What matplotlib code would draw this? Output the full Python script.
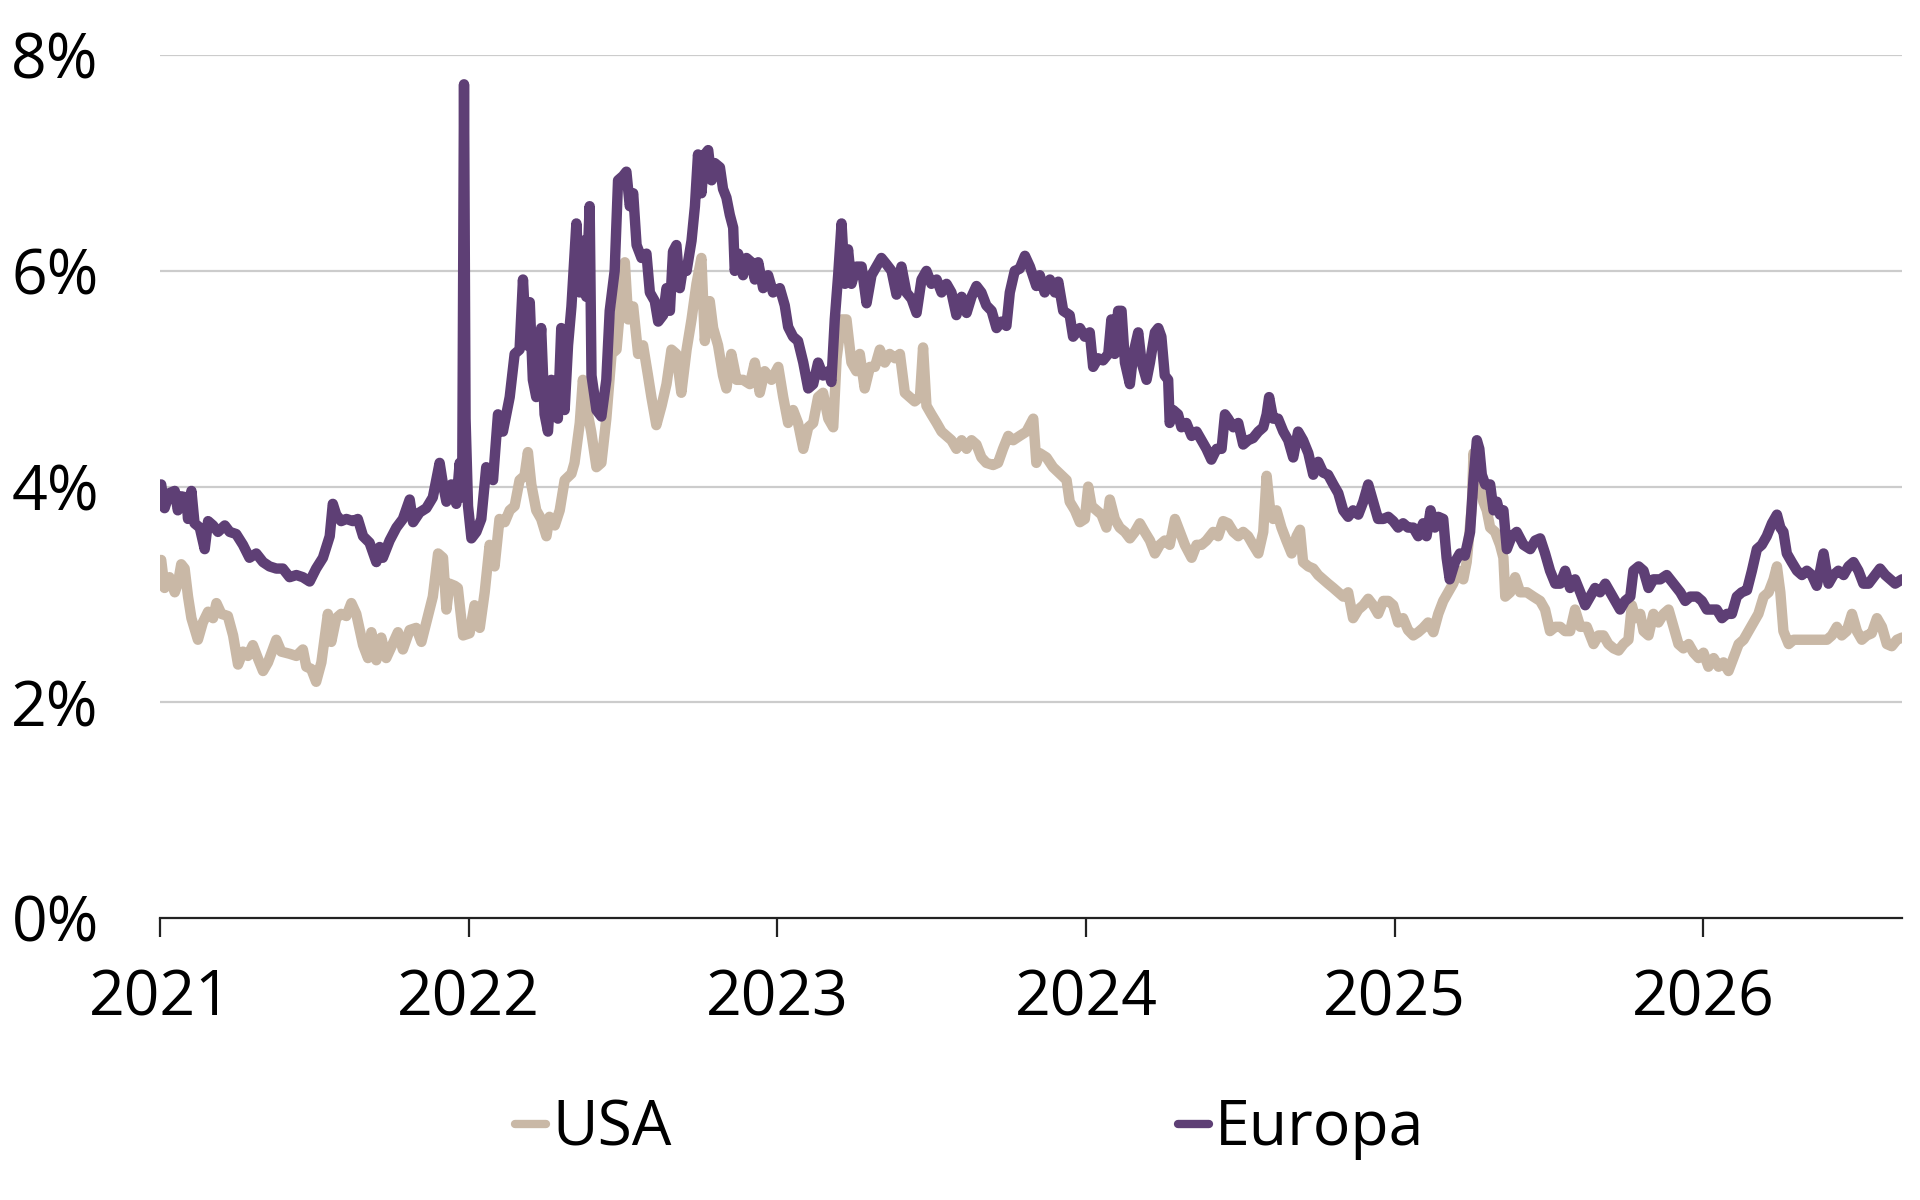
import matplotlib
matplotlib.use("Agg")
import matplotlib.pyplot as plt
from matplotlib.lines import Line2D
from matplotlib.ticker import FixedLocator, FuncFormatter

plt.rcParams['font.family'] = ['Open Sans', 'DejaVu Sans']

# ---- data (decimal years, percent) ----
eur_t = [2021.004, 2021.015, 2021.031, 2021.048, 2021.058, 2021.069, 2021.085, 2021.091, 2021.102, 2021.112,
         2021.129, 2021.145, 2021.156, 2021.172, 2021.188, 2021.210, 2021.226, 2021.247, 2021.269, 2021.290,
         2021.312, 2021.334, 2021.355, 2021.377, 2021.398, 2021.420, 2021.442, 2021.463, 2021.485, 2021.506,
         2021.528, 2021.550, 2021.560, 2021.571, 2021.587, 2021.604, 2021.625, 2021.641, 2021.658, 2021.679,
         2021.701, 2021.712, 2021.722, 2021.744, 2021.766, 2021.787, 2021.809, 2021.820, 2021.841, 2021.863,
         2021.884, 2021.906, 2021.917, 2021.928, 2021.944, 2021.960, 2021.971, 2021.979, 2021.985, 2021.990,
         2021.998, 2022.009, 2022.025, 2022.041, 2022.057, 2022.079, 2022.095, 2022.111, 2022.133, 2022.149,
         2022.165, 2022.176, 2022.187, 2022.198, 2022.208, 2022.219, 2022.235, 2022.246, 2022.257, 2022.268,
         2022.279, 2022.289, 2022.300, 2022.311, 2022.322, 2022.333, 2022.349, 2022.360, 2022.370, 2022.381,
         2022.392, 2022.398, 2022.414, 2022.430, 2022.446, 2022.457, 2022.473, 2022.484, 2022.500, 2022.511,
         2022.522, 2022.533, 2022.544, 2022.560, 2022.576, 2022.587, 2022.603, 2022.614, 2022.630, 2022.641,
         2022.652, 2022.662, 2022.673, 2022.684, 2022.695, 2022.706, 2022.722, 2022.733, 2022.743, 2022.754,
         2022.765, 2022.776, 2022.787, 2022.797, 2022.814, 2022.824, 2022.835, 2022.846, 2022.857, 2022.862,
         2022.873, 2022.889, 2022.900, 2022.916, 2022.927, 2022.938, 2022.954, 2022.970, 2022.986, 2023.008,
         2023.024, 2023.035, 2023.051, 2023.067, 2023.084, 2023.100, 2023.116, 2023.132, 2023.148, 2023.165,
         2023.175, 2023.186, 2023.197, 2023.208, 2023.219, 2023.229, 2023.240, 2023.256, 2023.273, 2023.289,
         2023.305, 2023.321, 2023.337, 2023.354, 2023.370, 2023.386, 2023.402, 2023.418, 2023.435, 2023.451,
         2023.467, 2023.483, 2023.499, 2023.516, 2023.532, 2023.548, 2023.564, 2023.580, 2023.597, 2023.613,
         2023.629, 2023.645, 2023.661, 2023.677, 2023.694, 2023.710, 2023.726, 2023.742, 2023.753, 2023.769,
         2023.785, 2023.802, 2023.818, 2023.839, 2023.850, 2023.866, 2023.883, 2023.899, 2023.910, 2023.926,
         2023.947, 2023.958, 2023.980, 2023.996, 2024.012, 2024.023, 2024.039, 2024.055, 2024.072, 2024.082,
         2024.093, 2024.104, 2024.115, 2024.126, 2024.142, 2024.153, 2024.169, 2024.180, 2024.196, 2024.207,
         2024.223, 2024.234, 2024.244, 2024.255, 2024.266, 2024.271, 2024.282, 2024.298, 2024.309, 2024.325,
         2024.342, 2024.358, 2024.374, 2024.390, 2024.406, 2024.423, 2024.439, 2024.450, 2024.460, 2024.477,
         2024.493, 2024.509, 2024.525, 2024.541, 2024.558, 2024.574, 2024.585, 2024.593, 2024.606, 2024.622,
         2024.639, 2024.655, 2024.671, 2024.687, 2024.703, 2024.720, 2024.736, 2024.752, 2024.768, 2024.784,
         2024.801, 2024.817, 2024.833, 2024.849, 2024.865, 2024.882, 2024.898, 2024.914, 2024.930, 2024.946,
         2024.963, 2024.979, 2024.995, 2025.011, 2025.027, 2025.043, 2025.060, 2025.076, 2025.092, 2025.103,
         2025.116, 2025.130, 2025.141, 2025.157, 2025.168, 2025.178, 2025.195, 2025.211, 2025.227, 2025.238,
         2025.244, 2025.255, 2025.266, 2025.274, 2025.282, 2025.293, 2025.309, 2025.320, 2025.331, 2025.341,
         2025.352, 2025.363, 2025.379, 2025.395, 2025.417, 2025.439, 2025.455, 2025.471, 2025.487, 2025.503,
         2025.520, 2025.536, 2025.552, 2025.568, 2025.584, 2025.601, 2025.617, 2025.633, 2025.649, 2025.665,
         2025.682, 2025.698, 2025.714, 2025.730, 2025.746, 2025.763, 2025.773, 2025.790, 2025.806, 2025.822,
         2025.838, 2025.860, 2025.881, 2025.903, 2025.925, 2025.941, 2025.957, 2025.979, 2025.995, 2026.011,
         2026.027, 2026.043, 2026.060, 2026.076, 2026.092, 2026.108, 2026.124, 2026.141, 2026.157, 2026.173,
         2026.189, 2026.205, 2026.222, 2026.238, 2026.249, 2026.259, 2026.270, 2026.286, 2026.303, 2026.319,
         2026.335, 2026.351, 2026.367, 2026.378, 2026.389, 2026.405, 2026.421, 2026.437, 2026.454, 2026.470,
         2026.486, 2026.502, 2026.518, 2026.535, 2026.551, 2026.572, 2026.589, 2026.605, 2026.621, 2026.643]
eur_v = [4.02, 3.80, 3.94, 3.96, 3.78, 3.91, 3.90, 3.70, 3.96, 3.66,
         3.62, 3.42, 3.68, 3.64, 3.58, 3.64, 3.58, 3.56, 3.46, 3.34,
         3.38, 3.30, 3.26, 3.24, 3.24, 3.16, 3.18, 3.16, 3.12, 3.24,
         3.34, 3.54, 3.84, 3.74, 3.68, 3.70, 3.68, 3.70, 3.54, 3.48,
         3.30, 3.44, 3.34, 3.50, 3.62, 3.70, 3.88, 3.67, 3.76, 3.80,
         3.90, 4.22, 4.02, 3.86, 4.02, 3.84, 4.22, 3.90, 7.73, 4.63,
         3.82, 3.52, 3.58, 3.70, 4.18, 4.06, 4.67, 4.51, 4.83, 5.23,
         5.27, 5.92, 5.31, 5.71, 4.99, 4.83, 5.47, 4.67, 4.51, 4.99,
         4.91, 4.63, 5.47, 4.71, 5.31, 5.67, 6.44, 5.80, 6.28, 5.76,
         6.60, 5.03, 4.71, 4.65, 4.99, 5.63, 6.00, 6.84, 6.88, 6.92,
         6.60, 6.72, 6.24, 6.12, 6.16, 5.80, 5.72, 5.53, 5.59, 5.84,
         5.63, 6.18, 6.24, 5.84, 6.04, 6.00, 6.28, 6.60, 7.08, 6.72,
         7.08, 7.12, 6.84, 7.00, 6.96, 6.76, 6.68, 6.52, 6.40, 6.00,
         6.16, 5.96, 6.12, 6.08, 5.92, 6.08, 5.84, 5.96, 5.80, 5.84,
         5.68, 5.48, 5.39, 5.35, 5.15, 4.91, 4.95, 5.15, 5.03, 5.07,
         4.97, 5.55, 5.96, 6.44, 5.88, 6.20, 5.88, 6.04, 6.04, 5.70,
         5.96, 6.04, 6.12, 6.06, 6.00, 5.78, 6.04, 5.80, 5.74, 5.61,
         5.92, 6.00, 5.88, 5.92, 5.80, 5.88, 5.80, 5.59, 5.76, 5.61,
         5.76, 5.86, 5.80, 5.68, 5.63, 5.47, 5.53, 5.49, 5.80, 6.00,
         6.02, 6.14, 6.04, 5.86, 5.96, 5.80, 5.92, 5.80, 5.90, 5.63,
         5.59, 5.39, 5.47, 5.39, 5.43, 5.11, 5.19, 5.17, 5.23, 5.55,
         5.23, 5.63, 5.63, 5.15, 4.95, 5.23, 5.43, 5.15, 4.99, 5.15,
         5.43, 5.47, 5.39, 5.03, 4.99, 4.59, 4.71, 4.67, 4.55, 4.59,
         4.47, 4.51, 4.43, 4.35, 4.25, 4.35, 4.35, 4.67, 4.63, 4.55,
         4.59, 4.39, 4.43, 4.45, 4.51, 4.55, 4.67, 4.83, 4.63, 4.63,
         4.51, 4.43, 4.27, 4.51, 4.43, 4.31, 4.11, 4.23, 4.13, 4.11,
         4.02, 3.94, 3.78, 3.72, 3.78, 3.74, 3.86, 4.02, 3.86, 3.70,
         3.70, 3.72, 3.68, 3.62, 3.66, 3.62, 3.62, 3.54, 3.66, 3.54,
         3.78, 3.62, 3.72, 3.70, 3.34, 3.14, 3.30, 3.38, 3.36, 3.50,
         3.58, 4.07, 4.43, 4.35, 4.11, 4.02, 4.02, 3.78, 3.86, 3.74,
         3.78, 3.42, 3.54, 3.58, 3.46, 3.42, 3.50, 3.52, 3.38, 3.22,
         3.10, 3.10, 3.22, 3.06, 3.14, 3.02, 2.90, 2.98, 3.06, 3.02,
         3.10, 3.02, 2.94, 2.86, 2.94, 2.98, 3.22, 3.26, 3.22, 3.06,
         3.14, 3.14, 3.18, 3.10, 3.02, 2.94, 2.98, 2.98, 2.94, 2.86,
         2.86, 2.86, 2.78, 2.82, 2.82, 2.98, 3.02, 3.04, 3.22, 3.42,
         3.46, 3.54, 3.66, 3.74, 3.62, 3.58, 3.38, 3.30, 3.22, 3.18,
         3.22, 3.18, 3.08, 3.22, 3.38, 3.10, 3.18, 3.22, 3.18, 3.26,
         3.30, 3.22, 3.10, 3.10, 3.16, 3.24, 3.18, 3.14, 3.10, 3.14]

usa_t = [2021.004, 2021.015, 2021.031, 2021.048, 2021.058, 2021.069, 2021.080, 2021.091, 2021.102, 2021.123,
         2021.139, 2021.156, 2021.172, 2021.183, 2021.199, 2021.220, 2021.237, 2021.253, 2021.269, 2021.285,
         2021.301, 2021.317, 2021.334, 2021.350, 2021.377, 2021.393, 2021.420, 2021.442, 2021.463, 2021.474,
         2021.490, 2021.506, 2021.523, 2021.544, 2021.555, 2021.571, 2021.587, 2021.604, 2021.620, 2021.636,
         2021.658, 2021.674, 2021.685, 2021.701, 2021.717, 2021.733, 2021.749, 2021.771, 2021.787, 2021.809,
         2021.830, 2021.847, 2021.863, 2021.884, 2021.901, 2021.917, 2021.928, 2021.938, 2021.955, 2021.965,
         2021.982, 2022.003, 2022.019, 2022.036, 2022.052, 2022.068, 2022.084, 2022.100, 2022.117, 2022.133,
         2022.149, 2022.165, 2022.181, 2022.192, 2022.203, 2022.219, 2022.235, 2022.252, 2022.262, 2022.279,
         2022.295, 2022.311, 2022.333, 2022.343, 2022.360, 2022.370, 2022.381, 2022.397, 2022.414, 2022.430,
         2022.446, 2022.463, 2022.479, 2022.495, 2022.506, 2022.517, 2022.533, 2022.549, 2022.565, 2022.581,
         2022.592, 2022.608, 2022.625, 2022.641, 2022.657, 2022.673, 2022.689, 2022.706, 2022.722, 2022.738,
         2022.754, 2022.765, 2022.781, 2022.792, 2022.808, 2022.824, 2022.835, 2022.851, 2022.868, 2022.889,
         2022.911, 2022.927, 2022.943, 2022.959, 2022.981, 2023.003, 2023.019, 2023.035, 2023.051, 2023.067,
         2023.084, 2023.100, 2023.116, 2023.132, 2023.148, 2023.165, 2023.181, 2023.192, 2023.208, 2023.224,
         2023.240, 2023.256, 2023.267, 2023.283, 2023.300, 2023.316, 2023.332, 2023.348, 2023.364, 2023.381,
         2023.397, 2023.413, 2023.429, 2023.445, 2023.462, 2023.472, 2023.483, 2023.499, 2023.516, 2023.532,
         2023.548, 2023.564, 2023.580, 2023.597, 2023.613, 2023.629, 2023.645, 2023.661, 2023.677, 2023.699,
         2023.715, 2023.731, 2023.748, 2023.764, 2023.785, 2023.807, 2023.829, 2023.839, 2023.850, 2023.872,
         2023.893, 2023.915, 2023.937, 2023.947, 2023.964, 2023.980, 2023.996, 2024.007, 2024.018, 2024.034,
         2024.050, 2024.066, 2024.077, 2024.093, 2024.109, 2024.126, 2024.142, 2024.158, 2024.174, 2024.190,
         2024.207, 2024.223, 2024.239, 2024.255, 2024.271, 2024.288, 2024.304, 2024.320, 2024.342, 2024.358,
         2024.374, 2024.390, 2024.412, 2024.428, 2024.444, 2024.460, 2024.477, 2024.493, 2024.509, 2024.525,
         2024.541, 2024.558, 2024.574, 2024.585, 2024.595, 2024.606, 2024.617, 2024.633, 2024.649, 2024.666,
         2024.682, 2024.693, 2024.703, 2024.720, 2024.736, 2024.752, 2024.768, 2024.784, 2024.801, 2024.817,
         2024.833, 2024.849, 2024.865, 2024.882, 2024.898, 2024.914, 2024.930, 2024.946, 2024.963, 2024.979,
         2024.995, 2025.011, 2025.027, 2025.043, 2025.060, 2025.076, 2025.092, 2025.108, 2025.125, 2025.141,
         2025.157, 2025.173, 2025.189, 2025.206, 2025.222, 2025.233, 2025.250, 2025.255, 2025.266, 2025.277,
         2025.287, 2025.298, 2025.309, 2025.325, 2025.341, 2025.352, 2025.358, 2025.374, 2025.390, 2025.406,
         2025.428, 2025.449, 2025.471, 2025.487, 2025.503, 2025.520, 2025.536, 2025.552, 2025.568, 2025.584,
         2025.601, 2025.622, 2025.644, 2025.660, 2025.676, 2025.692, 2025.709, 2025.725, 2025.741, 2025.757,
         2025.768, 2025.779, 2025.795, 2025.806, 2025.822, 2025.838, 2025.854, 2025.871, 2025.887, 2025.903,
         2025.919, 2025.935, 2025.952, 2025.968, 2025.984, 2026.000, 2026.016, 2026.033, 2026.049, 2026.065,
         2026.081, 2026.097, 2026.114, 2026.130, 2026.146, 2026.162, 2026.178, 2026.195, 2026.211, 2026.227,
         2026.238, 2026.249, 2026.259, 2026.276, 2026.292, 2026.313, 2026.335, 2026.356, 2026.378, 2026.400,
         2026.416, 2026.432, 2026.448, 2026.464, 2026.481, 2026.497, 2026.513, 2026.529, 2026.545, 2026.562,
         2026.578, 2026.594, 2026.610, 2026.627, 2026.643]
usa_v = [3.32, 3.06, 3.16, 3.02, 3.10, 3.28, 3.24, 2.98, 2.78, 2.58,
         2.74, 2.84, 2.78, 2.92, 2.82, 2.80, 2.62, 2.35, 2.47, 2.43,
         2.53, 2.41, 2.29, 2.37, 2.58, 2.47, 2.45, 2.43, 2.49, 2.33,
         2.31, 2.19, 2.37, 2.82, 2.56, 2.78, 2.82, 2.80, 2.92, 2.82,
         2.53, 2.41, 2.65, 2.39, 2.60, 2.41, 2.51, 2.65, 2.49, 2.67,
         2.69, 2.56, 2.74, 2.98, 3.38, 3.34, 2.86, 3.10, 3.08, 3.06,
         2.62, 2.64, 2.90, 2.69, 3.02, 3.46, 3.26, 3.70, 3.67, 3.78,
         3.82, 4.06, 4.10, 4.32, 4.02, 3.78, 3.70, 3.54, 3.72, 3.64,
         3.78, 4.06, 4.12, 4.22, 4.59, 4.99, 4.75, 4.51, 4.18, 4.22,
         4.63, 5.23, 5.27, 5.80, 6.08, 5.55, 5.67, 5.23, 5.31, 5.03,
         4.83, 4.57, 4.75, 4.95, 5.27, 5.23, 4.87, 5.27, 5.55, 5.88,
         6.12, 5.35, 5.72, 5.47, 5.31, 5.03, 4.91, 5.23, 4.99, 4.99,
         4.95, 5.15, 4.87, 5.07, 4.99, 5.11, 4.83, 4.59, 4.71, 4.59,
         4.35, 4.55, 4.59, 4.83, 4.87, 4.63, 4.55, 5.19, 5.55, 5.55,
         5.15, 5.07, 5.23, 4.91, 5.11, 5.11, 5.27, 5.15, 5.23, 5.19,
         5.23, 4.87, 4.83, 4.79, 4.83, 5.29, 4.75, 4.67, 4.59, 4.51,
         4.47, 4.43, 4.35, 4.43, 4.35, 4.43, 4.39, 4.27, 4.22, 4.20,
         4.22, 4.35, 4.47, 4.43, 4.47, 4.51, 4.63, 4.22, 4.31, 4.27,
         4.18, 4.12, 4.06, 3.86, 3.78, 3.67, 3.70, 4.00, 3.82, 3.78,
         3.74, 3.62, 3.88, 3.70, 3.62, 3.58, 3.52, 3.58, 3.66, 3.58,
         3.50, 3.38, 3.46, 3.50, 3.46, 3.70, 3.58, 3.46, 3.34, 3.46,
         3.46, 3.50, 3.58, 3.54, 3.68, 3.66, 3.58, 3.54, 3.58, 3.54,
         3.46, 3.38, 3.58, 4.10, 3.82, 3.70, 3.78, 3.62, 3.50, 3.38,
         3.54, 3.60, 3.30, 3.26, 3.24, 3.18, 3.14, 3.10, 3.06, 3.02,
         2.98, 3.02, 2.78, 2.86, 2.90, 2.96, 2.90, 2.82, 2.94, 2.94,
         2.90, 2.74, 2.78, 2.67, 2.62, 2.65, 2.69, 2.74, 2.65, 2.82,
         2.94, 3.02, 3.10, 3.22, 3.14, 3.30, 3.83, 4.31, 4.07, 4.02,
         3.86, 3.78, 3.62, 3.58, 3.46, 3.34, 2.98, 3.02, 3.16, 3.02,
         3.02, 2.98, 2.94, 2.86, 2.66, 2.70, 2.70, 2.66, 2.66, 2.86,
         2.70, 2.70, 2.54, 2.62, 2.62, 2.54, 2.50, 2.48, 2.54, 2.58,
         2.90, 2.78, 2.82, 2.66, 2.62, 2.82, 2.74, 2.82, 2.86, 2.70,
         2.54, 2.50, 2.54, 2.46, 2.41, 2.46, 2.33, 2.41, 2.33, 2.37,
         2.29, 2.41, 2.54, 2.58, 2.66, 2.74, 2.82, 2.98, 3.02, 3.14,
         3.26, 3.02, 2.66, 2.54, 2.58, 2.58, 2.58, 2.58, 2.58, 2.58,
         2.62, 2.70, 2.62, 2.66, 2.82, 2.66, 2.58, 2.62, 2.64, 2.78,
         2.70, 2.54, 2.52, 2.58, 2.60]

series_names = ["USA", "Europa"]
year_ticks = [2021, 2022, 2023, 2024, 2025, 2026]
y_ticks = [0, 2, 4, 6, 8]

COL_USA = "#C9B8A6"
COL_EUR = "#5E3F75"

fig = plt.figure(figsize=(19.2, 12), dpi=100)
ax = fig.add_axes([0.0833, 0.235, 0.9073, 0.719])

ax.plot(usa_t, usa_v, color=COL_USA, lw=7.5, solid_joinstyle='round',
        solid_capstyle='round', zorder=3)
ax.plot(eur_t, eur_v, color=COL_EUR, lw=7.5, solid_joinstyle='round',
        solid_capstyle='round', zorder=4)

ax.set_xlim(2021.0, 2026.643)
ax.set_ylim(0, 8)

for s in ['top', 'right', 'left']:
    ax.spines[s].set_visible(False)
ax.spines['bottom'].set_color('#222222')
ax.spines['bottom'].set_linewidth(1.6)
ax.spines['bottom'].set_zorder(5)

for yv in y_ticks[1:]:
    ax.axhline(yv, color='#CCCCCC', lw=1.6, zorder=1)

ax.xaxis.set_major_locator(FixedLocator(year_ticks))
ax.xaxis.set_major_formatter(FuncFormatter(lambda v, p: f"{int(round(v))}"))
ax.yaxis.set_major_locator(FixedLocator(y_ticks))
ax.yaxis.set_major_formatter(FuncFormatter(lambda v, p: f"{int(round(v))}%"))

ax.tick_params(axis='x', direction='out', length=14, width=1.6, color='#222222',
               labelsize=45, pad=22, labelcolor='black')
ax.tick_params(axis='y', length=0, labelsize=45, pad=44, labelcolor='black')

handles = [Line2D([0], [0], color=COL_USA, lw=6, solid_capstyle='round'),
           Line2D([0], [0], color=COL_EUR, lw=6, solid_capstyle='round')]
fig.legend(handles, series_names, loc='center', bbox_to_anchor=(0.505, 0.059),
           ncol=2, frameon=False, fontsize=45, handlelength=0.5, handletextpad=0.1,
           columnspacing=8.1, borderaxespad=0)

fig.savefig("out.png", dpi=100, facecolor='white')
